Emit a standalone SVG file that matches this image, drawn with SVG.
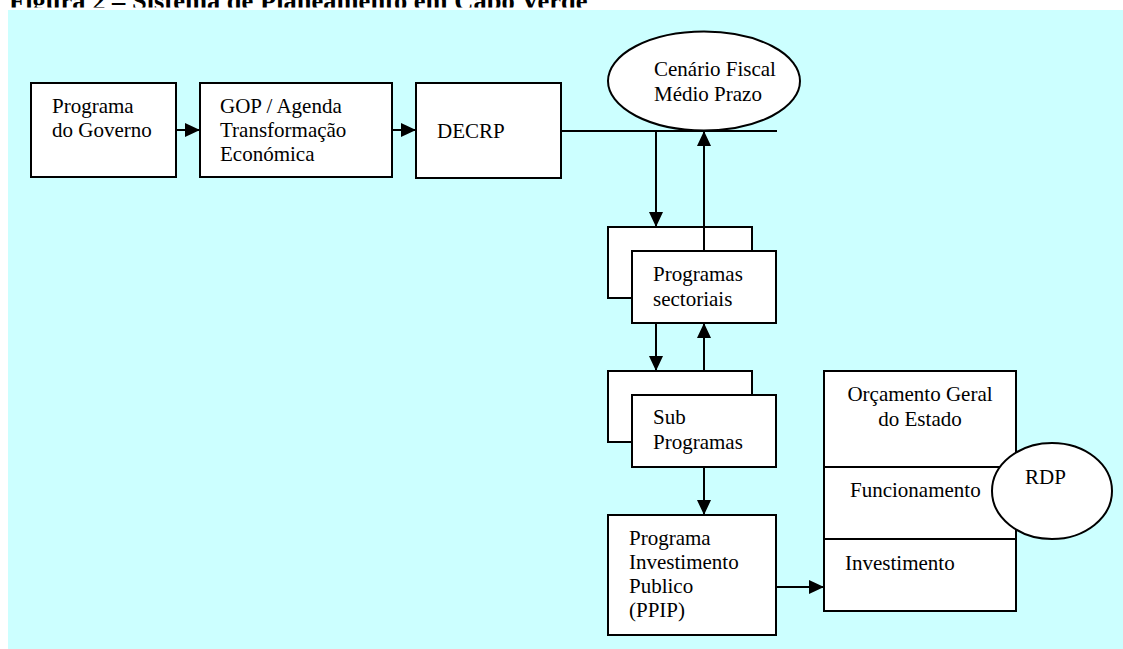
<svg xmlns="http://www.w3.org/2000/svg" width="1123" height="649" viewBox="0 0 1123 649">
  <style>
    .box { fill: #FFFFFF; stroke: #000000; stroke-width: 2; }
    .txt { font-family: "Liberation Serif", "Times New Roman", serif; font-size: 21px; fill: #000000; }
    .title { font-family: "Liberation Serif", "Times New Roman", serif; font-size: 26.5px; font-weight: bold; fill: #000000; }
    .wire { fill: none; stroke: #000000; stroke-width: 2; }
  </style>
  <defs>
    <marker id="arrow" markerUnits="userSpaceOnUse" markerWidth="15" markerHeight="14" refX="15" refY="7" orient="auto">
      <path d="M0,0 L15,7 L0,14 Z" fill="#000000"/>
    </marker>
    <clipPath id="titleClip">
      <rect x="0" y="0" width="1123" height="7.5"/>
    </clipPath>
  </defs>

  <rect x="0" y="0" width="1123" height="649" fill="#FFFFFF"/>
  <text class="title" x="9" y="9.5" clip-path="url(#titleClip)">Figura 2 – Sistema de Planeamento em Cabo Verde</text>
  <rect x="8" y="10" width="1115" height="639" fill="#CCFFFF"/>

  <g id="cenario-fiscal">
    <ellipse class="box" cx="704" cy="81" rx="96" ry="49.5"/>
    <text class="txt" x="654" y="76">Cenário Fiscal</text>
    <text class="txt" x="654" y="101">Médio Prazo</text>
  </g>

  <g id="programa-governo">
    <rect class="box" x="31" y="83" width="145" height="94"/>
    <text class="txt" x="52" y="113">Programa</text>
    <text class="txt" x="52" y="137">do Governo</text>
  </g>

  <g id="gop-agenda">
    <rect class="box" x="200" y="83" width="192" height="94"/>
    <text class="txt" x="220" y="113">GOP / Agenda</text>
    <text class="txt" x="220" y="137">Transformação</text>
    <text class="txt" x="220" y="161">Económica</text>
  </g>

  <g id="decrp">
    <rect class="box" x="416" y="83" width="145" height="95"/>
    <text class="txt" x="437" y="138">DECRP</text>
  </g>

  <g id="programas-sectoriais">
    <rect class="box" x="608" y="227" width="144" height="71"/>
    <rect class="box" x="632" y="251" width="144" height="72"/>
    <text class="txt" x="653" y="281">Programas</text>
    <text class="txt" x="653" y="306">sectoriais</text>
  </g>

  <g id="sub-programas">
    <rect class="box" x="608" y="371" width="144" height="71"/>
    <rect class="box" x="632" y="395" width="144" height="72"/>
    <text class="txt" x="653" y="424">Sub</text>
    <text class="txt" x="653" y="449">Programas</text>
  </g>

  <g id="ppip">
    <rect class="box" x="608" y="515" width="168" height="120"/>
    <text class="txt" x="629" y="545">Programa</text>
    <text class="txt" x="629" y="569">Investimento</text>
    <text class="txt" x="629" y="593">Publico</text>
    <text class="txt" x="629" y="617">(PPIP)</text>
  </g>

  <g id="orcamento-geral">
    <rect class="box" x="824" y="371" width="192" height="240"/>
    <line class="wire" x1="824" y1="467" x2="1016" y2="467"/>
    <line class="wire" x1="824" y1="539" x2="1016" y2="539"/>
    <text class="txt" x="920" y="401" text-anchor="middle">Orçamento Geral</text>
    <text class="txt" x="920" y="426" text-anchor="middle">do Estado</text>
    <text class="txt" x="850" y="497">Funcionamento</text>
    <text class="txt" x="845" y="570">Investimento</text>
  </g>

  <g id="rdp">
    <ellipse class="box" cx="1052" cy="491" rx="60" ry="48"/>
    <text class="txt" x="1025" y="484">RDP</text>
  </g>

  <g id="connectors">
    <line class="wire" x1="176" y1="130" x2="200" y2="130" marker-end="url(#arrow)"/>
    <line class="wire" x1="392" y1="130" x2="416" y2="130" marker-end="url(#arrow)"/>
    <line class="wire" x1="561" y1="131" x2="777" y2="131"/>
    <line class="wire" x1="656" y1="131" x2="656" y2="227" marker-end="url(#arrow)"/>
    <line class="wire" x1="704" y1="251" x2="704" y2="131" marker-end="url(#arrow)"/>
    <line class="wire" x1="656" y1="323" x2="656" y2="371" marker-end="url(#arrow)"/>
    <line class="wire" x1="704" y1="371" x2="704" y2="323" marker-end="url(#arrow)"/>
    <line class="wire" x1="704" y1="467" x2="704" y2="515" marker-end="url(#arrow)"/>
    <line class="wire" x1="776" y1="587" x2="824" y2="587" marker-end="url(#arrow)"/>
  </g>
</svg>
